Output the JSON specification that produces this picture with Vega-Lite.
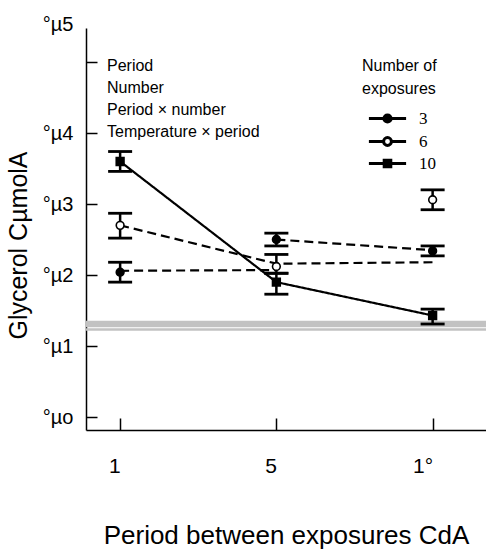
{
  "$schema": "https://vega.github.io/schema/vega-lite/v6.json",
  "width": 400,
  "height": 402,
  "autosize": {"type": "none"},
  "padding": {"left": 86, "top": 28, "right": 0, "bottom": 122},
  "background": "white",
  "config": {
    "view": {"stroke": null},
    "font": "Liberation Sans",
    "axis": {"domainColor": "black", "tickColor": "black", "labelColor": "black", "titleColor": "black", "grid": false, "domainWidth": 1.5, "tickWidth": 1.5, "titleFontWeight": "normal", "labelFont": "Liberation Sans", "titleFont": "Liberation Sans"}
  },
  "datasets": {
    "pts": [
      {"n": "3", "x": "1", "y": 0.204, "lo": 0.19, "hi": 0.218},
      {"n": "3", "x": "5", "y": 0.25, "lo": 0.241, "hi": 0.259},
      {"n": "3", "x": "10", "y": 0.234, "lo": 0.227, "hi": 0.241},
      {"n": "6", "x": "1", "y": 0.27, "lo": 0.252, "hi": 0.287},
      {"n": "6", "x": "5", "y": 0.212, "lo": 0.2025, "hi": 0.229},
      {"n": "6", "x": "10", "y": 0.306, "lo": 0.292, "hi": 0.32},
      {"n": "10", "x": "1", "y": 0.36, "lo": 0.346, "hi": 0.374},
      {"n": "10", "x": "5", "y": 0.19, "lo": 0.173, "hi": 0.2025},
      {"n": "10", "x": "10", "y": 0.143, "lo": 0.131, "hi": 0.152}
    ],
    "lines": [
      {"seg": "A", "style": "dashed", "x": "1", "y": 0.206},
      {"seg": "A", "style": "dashed", "x": "5", "y": 0.207},
      {"seg": "B", "style": "dashed", "x": "5", "y": 0.25},
      {"seg": "B", "style": "dashed", "x": "10", "y": 0.235},
      {"seg": "C", "style": "dashed", "x": "1", "y": 0.27},
      {"seg": "C", "style": "dashed", "x": "5", "y": 0.216},
      {"seg": "C", "style": "dashed", "x": "10", "y": 0.218},
      {"seg": "D", "style": "solid", "x": "1", "y": 0.36},
      {"seg": "D", "style": "solid", "x": "5", "y": 0.19},
      {"seg": "D", "style": "solid", "x": "10", "y": 0.143}
    ],
    "bands": [
      {"level": "upper", "v": 0.131},
      {"level": "lower", "v": 0.1232}
    ],
    "notes": [
      {"label": "Period"},
      {"label": "Number"},
      {"label": "Period × number"},
      {"label": "Temperature × period"}
    ]
  },
  "layer": [
    {
      "data": {"name": "bands"},
      "mark": {"type": "rule", "color": "#c2c2c2"},
      "encoding": {
        "y": {"field": "v", "type": "quantitative", "scale": {"domain": [-0.0183, 0.548], "nice": false, "zero": false}, "title": "Glycerol CµmolA"},
        "strokeWidth": {"field": "level", "type": "nominal", "scale": {"domain": ["upper", "lower"], "range": [6.5, 2.4]}, "legend": null}
      }
    },
    {
      "data": {"name": "lines"},
      "mark": {"type": "line", "color": "black", "strokeWidth": 2.2},
      "encoding": {
        "x": {"field": "x", "type": "ordinal", "sort": ["1", "5", "10"], "title": "Period between exposures CdA"},
        "y": {"field": "y", "type": "quantitative", "title": "Glycerol CµmolA"},
        "detail": {"field": "seg"},
        "strokeDash": {"field": "style", "type": "nominal", "scale": {"domain": ["solid", "dashed"], "range": [[1, 0], [9, 5]]}, "legend": null}
      }
    },
    {
      "data": {"name": "pts"},
      "mark": {"type": "rule", "color": "black", "strokeWidth": 2.5},
      "encoding": {
        "x": {"field": "x", "type": "ordinal", "sort": ["1", "5", "10"], "title": "Period between exposures CdA"},
        "y": {"field": "lo", "type": "quantitative", "title": "Glycerol CµmolA"},
        "y2": {"field": "hi"}
      }
    },
    {
      "data": {"name": "pts"},
      "mark": {"type": "tick", "color": "black", "orient": "horizontal", "size": 24, "thickness": 2.8, "opacity": 1},
      "encoding": {
        "x": {"field": "x", "type": "ordinal", "sort": ["1", "5", "10"], "title": "Period between exposures CdA"},
        "y": {"field": "lo", "type": "quantitative", "title": "Glycerol CµmolA"}
      }
    },
    {
      "data": {"name": "pts"},
      "mark": {"type": "tick", "color": "black", "orient": "horizontal", "size": 24, "thickness": 2.8, "opacity": 1},
      "encoding": {
        "x": {"field": "x", "type": "ordinal", "sort": ["1", "5", "10"], "title": "Period between exposures CdA"},
        "y": {"field": "hi", "type": "quantitative", "title": "Glycerol CµmolA"}
      }
    },
    {
      "data": {"name": "pts"},
      "mark": {"type": "point", "filled": true, "stroke": "black", "strokeWidth": 1.6, "size": 60, "opacity": 1},
      "encoding": {
        "x": {
          "field": "x", "type": "ordinal", "sort": ["1", "5", "10"],
          "scale": {"type": "point", "padding": 0.28, "align": 0.39},
          "title": "Period between exposures CdA",
          "axis": {"labelAngle": 0, "labelExpr": "datum.value == '10' ? '1°' : datum.value", "tickSize": -12, "labelFontSize": 21, "labelPadding": 37, "labelBaseline": "top", "titleFontSize": 26, "titlePadding": 46}
        },
        "y": {
          "field": "y", "type": "quantitative",
          "title": "Glycerol CµmolA",
          "axis": {
            "values": [0, 0.1, 0.2, 0.3, 0.4, 0.5],
            "labelExpr": "['°µo','°µ1','°µ2','°µ3','°µ4','°µ5'][round(datum.value*10)]",
            "tickSize": -11, "labelFontSize": 20, "labelPadding": 24,
            "labelOffset": {"condition": {"test": "datum.value > 0.45", "value": -38}, "value": 0},
            "titleFontSize": 25, "titlePadding": 11, "titleY": 217
          }
        },
        "shape": {"field": "n", "type": "nominal", "scale": {"domain": ["3", "6", "10"], "range": ["circle", "circle", "square"]}, "legend": null},
        "fill": {"field": "n", "type": "nominal", "scale": {"domain": ["3", "6", "10"], "range": ["black", "white", "black"]}, "legend": null}
      }
    },
    {
      "data": {"name": "pts"},
      "mark": {"type": "point", "filled": true, "opacity": 0, "stroke": "black", "strokeWidth": 3, "size": 144},
      "encoding": {
        "x": {"field": "x", "type": "ordinal", "sort": ["1", "5", "10"], "title": "Period between exposures CdA"},
        "y": {"field": "y", "type": "quantitative", "title": "Glycerol CµmolA"},
        "shape": {
          "field": "n", "type": "nominal",
          "scale": {"domain": ["3", "6", "10"], "range": [
            "M-3.1,0H3.1M-0.6,0A0.6,0.6,0,1,0,0.6,0A0.6,0.6,0,1,0,-0.6,0Z",
            "M-3.1,0H-0.65M0.65,0H3.1M-0.65,0A0.65,0.65,0,1,0,0.65,0A0.65,0.65,0,1,0,-0.65,0Z",
            "M-3.1,0H3.1M-0.55,-0.55H0.55V0.55H-0.55Z"
          ]},
          "legend": {
            "title": ["Number of", "exposures"], "orient": "none", "legendX": 276, "legendY": 30,
            "padding": 0, "titleFont": "Liberation Sans", "titleFontSize": 16, "titleFontWeight": "normal", "titleLineHeight": 23, "titleColor": "black", "titlePadding": 13,
            "labelFont": "Liberation Serif", "labelFontSize": 17, "labelColor": "black", "labelOffset": 23,
            "symbolOffset": 17, "symbolSize": 144, "symbolOpacity": 1, "symbolStrokeColor": "black", "symbolStrokeWidth": 3, "rowPadding": 2,
            "encode": {"symbols": {"update": {"stroke": {"value": "black"}, "strokeWidth": {"value": 3}, "opacity": {"value": 1}, "strokeOpacity": {"value": 1}}}}
          }
        },
        "fill": {
          "field": "n", "type": "nominal",
          "scale": {"domain": ["3", "6", "10"], "range": ["black", "white", "black"]},
          "legend": {
            "title": ["Number of", "exposures"], "orient": "none", "legendX": 276, "legendY": 30,
            "padding": 0, "titleFont": "Liberation Sans", "titleFontSize": 16, "titleFontWeight": "normal", "titleLineHeight": 23, "titleColor": "black", "titlePadding": 13,
            "labelFont": "Liberation Serif", "labelFontSize": 17, "labelColor": "black", "labelOffset": 23,
            "symbolOffset": 17, "symbolSize": 144, "symbolOpacity": 1, "symbolStrokeColor": "black", "symbolStrokeWidth": 3, "rowPadding": 2,
            "encode": {"symbols": {"update": {"stroke": {"value": "black"}, "strokeWidth": {"value": 3}, "opacity": {"value": 1}, "strokeOpacity": {"value": 1}}}}
          }
        }
      }
    },
    {
      "data": {"name": "notes"},
      "mark": {"type": "point", "opacity": 0},
      "encoding": {
        "color": {
          "field": "label", "type": "nominal",
          "sort": ["Period", "Number", "Period × number", "Temperature × period"],
          "scale": {"range": ["black"]},
          "legend": {
            "title": null, "orient": "none", "legendX": 5, "legendY": 30, "padding": 0,
            "labelFont": "Liberation Sans", "labelFontSize": 16, "labelColor": "black", "labelOffset": 0,
            "symbolSize": 0, "symbolOpacity": 0, "symbolOffset": 0, "rowPadding": 6
          }
        }
      }
    }
  ],
  "resolve": {"scale": {"shape": "independent", "fill": "independent", "color": "independent"}, "legend": {"shape": "independent", "fill": "independent", "color": "independent"}}
}
